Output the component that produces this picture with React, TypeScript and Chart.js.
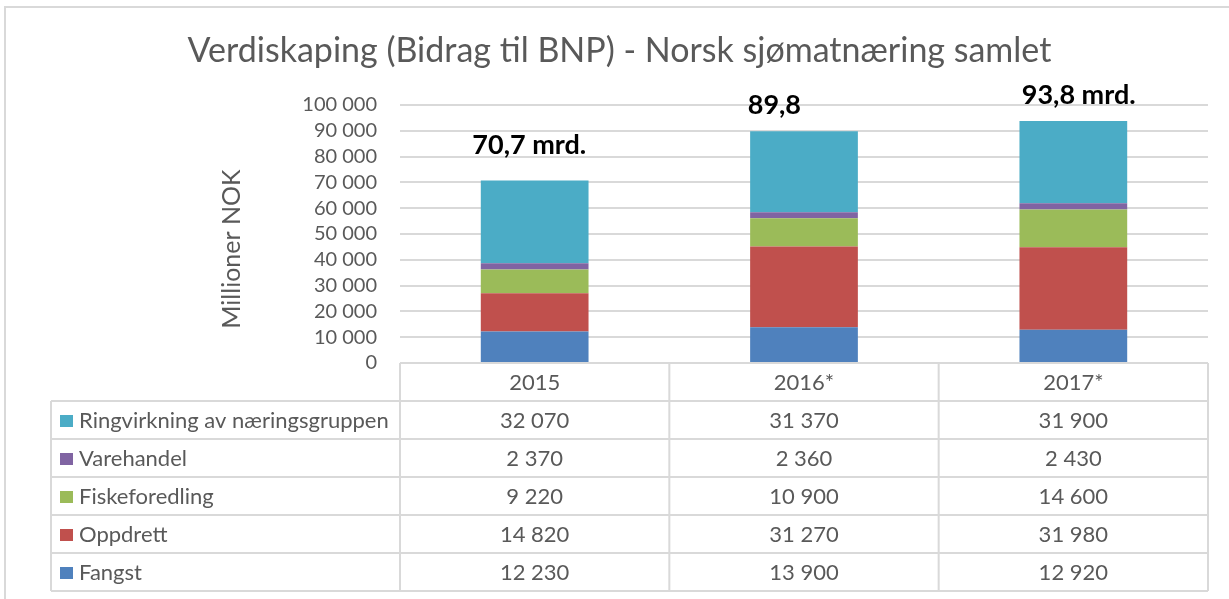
import React, { useEffect, useRef } from "react";
import { Chart, registerables } from "chart.js";

Chart.register(...registerables);

const categories = ["2015", "2016*", "2017*"];
const fangst = [12230, 13900, 12920];
const oppdrett = [14820, 31270, 31980];
const fiskeforedling = [9220, 10900, 14600];
const varehandel = [2370, 2360, 2430];
const ringvirkning = [32070, 31370, 31900];

const seriesNames = ["Fangst", "Oppdrett", "Fiskeforedling", "Varehandel", "Ringvirkning av næringsgruppen"];
const seriesColors = ["#4F81BD", "#C0504D", "#9BBB59", "#8064A2", "#4BACC6"];

const totalLabels = ["70,7 mrd.", "89,8", "93,8 mrd."];
const totalLabelX = [-0.02, 0.89, 2.02];
const totalLabelY = [84500, 100000, 103600];

const yTicksMax = 100000;
const yStep = 10000;

const chartTitle = "Verdiskaping (Bidrag til BNP) - Norsk sjømatnæring samlet";
const yAxisTitle = "Millioner NOK";

const FONT = "Lato, 'Open Sans', sans-serif";
const GRAY = "#595959";
const LINE = "#D9D9D9";

const fmt = (n: number) => String(n).replace(/\B(?=(\d{3})+(?!\d))/g, " ");

const framePlugin = {
  id: "frame",
  beforeDraw(chart: any) {
    const ctx = chart.ctx;
    ctx.save();
    ctx.fillStyle = "#ffffff";
    ctx.fillRect(0, 0, chart.width, chart.height);
    ctx.strokeStyle = LINE;
    ctx.lineWidth = 2;
    ctx.strokeRect(5, 7, chart.width + 20, chart.height + 20);
    ctx.restore();
  },
  afterDraw(chart: any) {
    const ctx = chart.ctx;
    ctx.save();
    ctx.fillStyle = GRAY;
    ctx.textBaseline = "middle";
    ctx.textAlign = "center";
    ctx.font = `34px ${FONT}`;
    ctx.fillText(chartTitle, chart.width / 2 + 5, 51);
    ctx.translate(232, 249);
    ctx.rotate(-Math.PI / 2);
    ctx.font = `25px ${FONT}`;
    ctx.fillText(yAxisTitle, 0, 0);
    ctx.restore();
  },
};

const tablePlugin = {
  id: "dataTable",
  afterDraw(chart: any) {
    const ctx = chart.ctx;
    const ca = chart.chartArea;
    const xs = chart.scales.x;
    const n = categories.length;
    const colW = ca.width / n;
    const rowH = 38;
    const top = ca.bottom;
    const tableLeft = 51;
    const rows = seriesNames.length;
    const bottom = top + rowH * (rows + 1);
    ctx.save();
    ctx.strokeStyle = LINE;
    ctx.lineWidth = 2;
    ctx.beginPath();
    ctx.moveTo(ca.left, top);
    ctx.lineTo(ca.right, top);
    for (let r = 1; r <= rows + 1; r++) {
      const y = top + rowH * r;
      ctx.moveTo(tableLeft, y);
      ctx.lineTo(ca.right, y);
    }
    ctx.moveTo(tableLeft, top + rowH);
    ctx.lineTo(tableLeft, bottom);
    for (let c = 0; c <= n; c++) {
      const x = ca.left + c * colW;
      ctx.moveTo(x, top);
      ctx.lineTo(x, bottom);
    }
    ctx.stroke();

    ctx.fillStyle = GRAY;
    ctx.font = `22px ${FONT}`;
    ctx.textBaseline = "middle";
    ctx.textAlign = "center";
    categories.forEach((c, i) => {
      ctx.fillText(c, xs.getPixelForValue(i), top + rowH / 2 + 1);
    });
    const ds = chart.data.datasets;
    for (let r = 0; r < rows; r++) {
      const d = ds[rows - 1 - r];
      const yc = top + rowH * (r + 1) + rowH / 2 + 1;
      ctx.fillStyle = d.backgroundColor;
      ctx.fillRect(tableLeft + 9, yc - 6, 13, 12);
      ctx.fillStyle = GRAY;
      ctx.textAlign = "left";
      ctx.fillText(d.label, tableLeft + 28, yc);
      ctx.textAlign = "center";
      d.data.forEach((v: number, i: number) => {
        ctx.fillText(fmt(v), xs.getPixelForValue(i), yc);
      });
    }
    ctx.restore();
  },
};

const totalsPlugin = {
  id: "totals",
  afterDatasetsDraw(chart: any) {
    const ctx = chart.ctx;
    const xs = chart.scales.x;
    const ys = chart.scales.y;
    ctx.save();
    ctx.fillStyle = "#000000";
    ctx.font = `bold 27px ${FONT}`;
    ctx.textAlign = "center";
    ctx.textBaseline = "middle";
    totalLabels.forEach((t, i) => {
      ctx.fillText(t, xs.getPixelForValue(totalLabelX[i]), ys.getPixelForValue(totalLabelY[i]));
    });
    ctx.restore();
  },
};

export default function App() {
  const ref = useRef<HTMLCanvasElement>(null);
  useEffect(() => {
    document.body.style.margin = "0";
    const series = [fangst, oppdrett, fiskeforedling, varehandel, ringvirkning];
    const chart = new Chart(ref.current as HTMLCanvasElement, {
      type: "bar",
      data: {
        labels: categories,
        datasets: series.map((d, i) => ({
          label: seriesNames[i],
          data: d,
          backgroundColor: seriesColors[i],
          borderWidth: 0,
          barPercentage: 0.4,
          categoryPercentage: 1,
        })),
      },
      options: {
        responsive: false,
        animation: false,
        layout: { padding: { left: 216, right: 21, top: 105, bottom: 236 } },
        plugins: {
          legend: { display: false },
          tooltip: { enabled: false },
          title: { display: false },
        },
        scales: {
          x: { stacked: true, display: false },
          y: {
            stacked: true,
            min: 0,
            max: yTicksMax,
            afterFit(scale: any) {
              scale.width = 184;
            },
            border: { display: false },
            grid: { color: LINE, lineWidth: 2, drawTicks: false },
            ticks: {
              stepSize: yStep,
              autoSkip: false,
              padding: 23,
              color: GRAY,
              font: { family: FONT, size: 20 },
              callback: (v: any) => fmt(Number(v)),
            },
          },
        },
      },
      plugins: [framePlugin, tablePlugin, totalsPlugin],
    });
    return () => chart.destroy();
  }, []);
  return <canvas ref={ref} width={1229} height={599} style={{ display: "block" }} />;
}
